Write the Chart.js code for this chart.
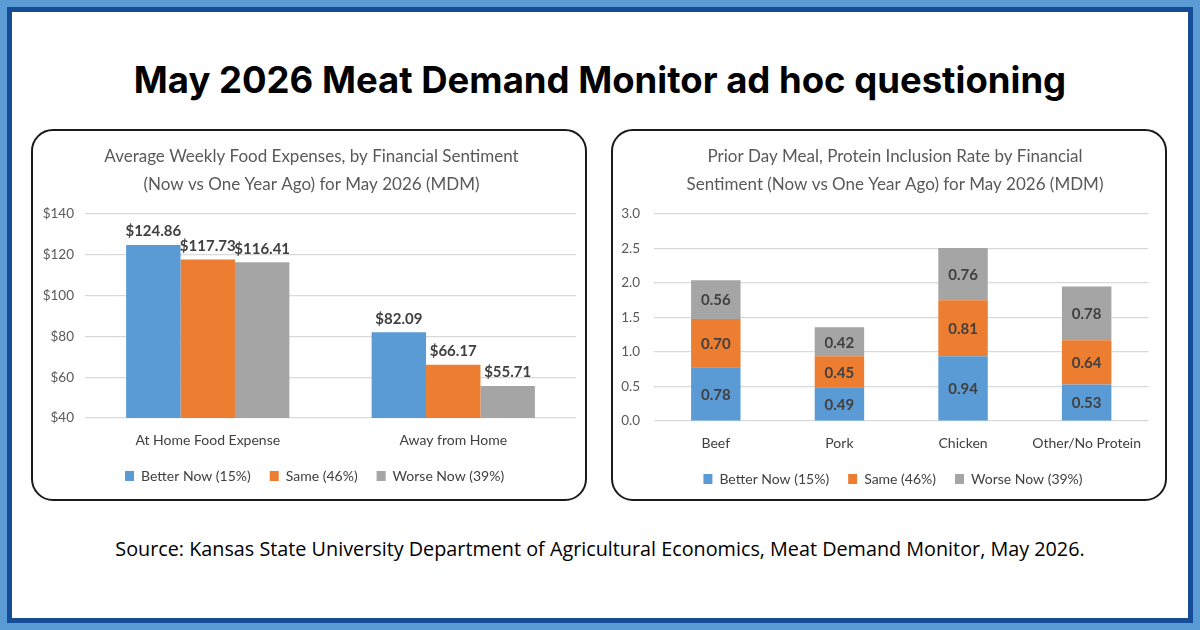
<!DOCTYPE html>
<html><head><meta charset="utf-8">
<script src="https://cdn.jsdelivr.net/npm/chart.js@4.4.1/dist/chart.umd.min.js"></script>
<style>
html,body{margin:0;padding:0;}
body{width:1200px;height:630px;background:#5b9bd5;position:relative;overflow:hidden;font-family:Lato,sans-serif;}
#frame{position:absolute;left:7px;top:7px;width:1186px;height:616px;box-sizing:border-box;border:5px solid #144d96;background:#fff;}
#title{position:absolute;left:0;top:59px;width:1200px;text-align:center;font:700 36.5px Inter,sans-serif;color:#000;line-height:42px;}
.panel{position:absolute;top:129px;height:372px;box-sizing:border-box;border:2px solid #1a1a1a;border-radius:22px;background:#fff}
#p1{left:31px;width:556px}
#p2{left:611px;width:556px}
#c1{position:absolute;left:34px;top:131px;}
#c2{position:absolute;left:613px;top:131px;}
#source{position:absolute;top:536px;left:0;width:1200px;text-align:center;font:19.8px 'Open Sans',sans-serif;color:#000;line-height:26px;}
</style></head>
<body>
<div id="frame"></div>
<div id="title">May 2026 Meat Demand Monitor ad hoc questioning</div>
<div class="panel" id="p1"></div>
<div class="panel" id="p2"></div>
<canvas id="c1" width="542" height="367"></canvas>
<canvas id="c2" width="542" height="367"></canvas>
<div id="source">Source: Kansas State University Department of Agricultural Economics, Meat Demand Monitor, May 2026.</div>
<script>
// ---- data ----
const seriesNames = ['Better Now (15%)', 'Same (46%)', 'Worse Now (39%)'];
const seriesColors = ['#5b9bd5', '#ed7d31', '#a5a5a5'];

const expenseCategories = ['At Home Food Expense', 'Away from Home'];
const expenseBetter = [124.86, 82.09];
const expenseSame = [117.73, 66.17];
const expenseWorse = [116.41, 55.71];
const expenseTicks = ['$40', '$60', '$80', '$100', '$120', '$140'];

const proteinCategories = ['Beef', 'Pork', 'Chicken', 'Other/No Protein'];
const proteinBetter = [0.78, 0.49, 0.94, 0.53];
const proteinSame = [0.70, 0.45, 0.81, 0.64];
const proteinWorse = [0.56, 0.42, 0.76, 0.78];
const proteinTicks = ['0.0', '0.5', '1.0', '1.5', '2.0', '2.5', '3.0'];

const leftTitle = ['Average Weekly Food Expenses, by Financial Sentiment', '(Now vs One Year Ago) for May 2026 (MDM)'];
const rightTitle = ['Prior Day Meal, Protein Inclusion Rate by Financial', 'Sentiment (Now vs One Year Ago) for May 2026 (MDM)'];

// ---- helpers ----
const FONT = 'Lato';
function makeLabels(mode, fmt) {
  return {
    id: 'valueLabels',
    afterDatasetsDraw(chart) {
      const ctx = chart.ctx;
      ctx.save();
      ctx.font = 'bold 15px ' + FONT;
      ctx.fillStyle = '#404040';
      ctx.textAlign = 'center';
      chart.data.datasets.forEach((ds, i) => {
        const meta = chart.getDatasetMeta(i);
        meta.data.forEach((bar, j) => {
          const t = fmt(ds.data[j]);
          if (mode === 'top') {
            ctx.textBaseline = 'bottom';
            ctx.fillText(t, bar.x, bar.y - 6);
          } else {
            ctx.textBaseline = 'middle';
            ctx.fillText(t, bar.x, (bar.y + bar.base) / 2 + 1);
          }
        });
      });
      ctx.restore();
    }
  };
}
// centre title and legend blocks on given canvas x positions
function makeCentering(titleX, legendX) {
  return {
    id: 'centering',
    beforeDraw(chart) {
      const shift = (b, x) => {
        if (!b) return;
        const d = x - (b.left + b.right) / 2;
        b.left += d; b.right += d;
      };
      shift(chart.titleBlock, titleX);
      shift(chart.legend, legendX);
    }
  };
}
function datasets(a, b, c) {
  return [a, b, c].map((d, i) => ({
    label: seriesNames[i], data: d, backgroundColor: seriesColors[i], borderWidth: 0
  }));
}
function commonOptions(titleLines, yMin, yMax, step, tickLabels, yWidth, yPad, padBottom, stacked) {
  return {
    responsive: false, animation: false, devicePixelRatio: 1,
    layout: { padding: { left: 0, right: 0, top: 0, bottom: padBottom } },
    plugins: {
      title: {
        display: true, text: titleLines, color: '#595959',
        font: { family: FONT, size: 17, weight: 'normal', lineHeight: 1.62 },
        padding: { top: 12, bottom: 16 }
      },
      legend: {
        position: 'bottom',
        labels: {
          boxWidth: 9, boxHeight: 10, padding: 19, color: '#404040',
          font: { family: FONT, size: 14 }
        }
      },
      tooltip: { enabled: false }
    },
    scales: {
      x: {
        stacked: stacked,
        grid: { display: false, drawTicks: false },
        border: { display: false },
        ticks: { color: '#404040', font: { family: FONT, size: 14 }, padding: 14 },
        afterFit(axis) { axis.height = 32; }
      },
      y: {
        stacked: stacked, min: yMin, max: yMax,
        grid: { color: '#d9d9d9', drawTicks: false, lineWidth: 1.2 },
        border: { display: false },
        ticks: {
          stepSize: step, color: '#595959', font: { family: FONT, size: 13.5 }, padding: yPad,
          callback: (v, i) => tickLabels[i]
        },
        afterFit(axis) { axis.width = yWidth; }
      }
    }
  };
}

// ---- left chart ----
const o1 = commonOptions(leftTitle, 40, 140, 20, expenseTicks, 51, 11, 5, false);
o1.datasets = { bar: { categoryPercentage: 0.665, barPercentage: 1 } };
new Chart(document.getElementById('c1'), {
  type: 'bar',
  data: { labels: expenseCategories, datasets: datasets(expenseBetter, expenseSame, expenseWorse) },
  options: o1,
  plugins: [makeLabels('top', v => '$' + v.toFixed(2)), makeCentering(277.5, 280.6)]
});

// ---- right chart ----
const o2 = commonOptions(rightTitle, 0, 3, 0.5, proteinTicks, 41, 14, 2, true);
o2.datasets = { bar: { categoryPercentage: 0.4, barPercentage: 1 } };
new Chart(document.getElementById('c2'), {
  type: 'bar',
  data: { labels: proteinCategories, datasets: datasets(proteinBetter, proteinSame, proteinWorse) },
  options: o2,
  plugins: [makeLabels('mid', v => v.toFixed(2)), makeCentering(282, 280)]
});
</script>
</body></html>
